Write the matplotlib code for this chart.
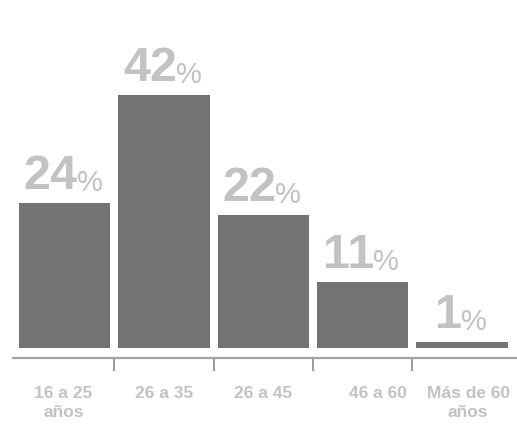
import matplotlib
matplotlib.use("Agg")
import matplotlib.pyplot as plt
from matplotlib.transforms import ScaledTranslation

# share of respondents by age group
categories = ["16 a 25\naños", "26 a 35", "26 a 45", "46 a 60", "Más de 60\naños"]
values = [24, 42, 22, 11, 1]

BAR = "#737373"
LABEL = "#c2c2c2"
AXIS = "#a3a3a3"

plt.rcParams["font.family"] = ["Liberation Sans", "DejaVu Sans"]

W, H = 517, 424
fig = plt.figure(figsize=(W / 100, H / 100), dpi=100)
# axes spans from the left edge of the baseline to the right edge, bottom at the baseline
ax = fig.add_axes([13 / W, 1 - 358 / H, 1 - 13 / W, 358 / H])

scale = 6.03  # px per percent
x = list(range(len(values)))
ax.bar(x, values, width=0.92, color=BAR)

ax.set_xlim((13 - 64.5) / 99.4, (517 - 64.5) / 99.4)
ybot = -10 / scale
ax.set_ylim(ybot, ybot + 358 / scale)

for i, v in enumerate(values):
    num = ax.annotate(str(v), xy=(i, v), xytext=(-14, 14), textcoords="offset pixels",
                      ha="center", va="baseline", fontsize=35, fontweight="bold",
                      color=LABEL)
    ax.annotate("%", xy=(1, 0), xycoords=num, xytext=(-1, 2), textcoords="offset pixels",
                ha="left", va="bottom", fontsize=21, color=LABEL)

for s in ["top", "right", "left"]:
    ax.spines[s].set_visible(False)
ax.spines["bottom"].set_color(AXIS)
ax.spines["bottom"].set_linewidth(1.6)
ax.set_yticks([])

ax.set_xticks(x, categories)
ax.set_xticks([0.5, 1.5, 2.5, 3.5], minor=True)
ax.tick_params(axis="x", which="major", length=0, pad=20, labelsize=12.5,
               labelcolor=LABEL)
ax.tick_params(axis="x", which="minor", length=9, width=1.2, color="#8a8a8a",
               direction="out")
shifts = [-1, 0, 0, 15, 6]
for t, dx in zip(ax.get_xticklabels(), shifts):
    t.set_fontweight("bold")
    t.set_linespacing(1.35)
    t.set_transform(t.get_transform() + ScaledTranslation(dx / 100, 0, fig.dpi_scale_trans))

fig.savefig("out.png", dpi=100)
